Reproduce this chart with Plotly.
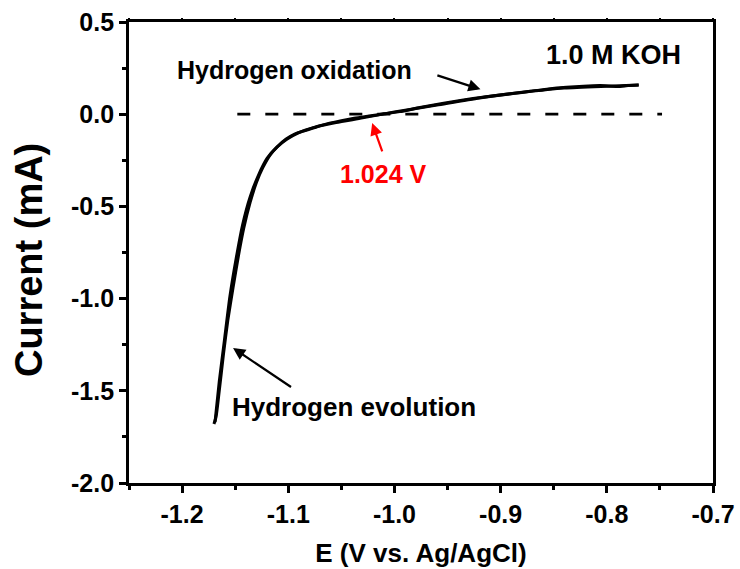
import plotly.graph_objects as go

# Forward scan (cathodic -> anodic)
E_fwd = [-1.170, -1.168, -1.165, -1.161, -1.157, -1.152, -1.147, -1.142, -1.136, -1.130, -1.124,
         -1.117, -1.110, -1.102, -1.094, -1.085, -1.075, -1.062, -1.050, -1.038, -1.024, -1.010,
         -0.995, -0.976, -0.955, -0.935, -0.917, -0.895, -0.872, -0.855, -0.838, -0.822, -0.806,
         -0.790, -0.780, -0.770]
I_fwd = [-1.680, -1.640, -1.500, -1.300, -1.120, -0.940, -0.770, -0.620, -0.480, -0.370, -0.290,
         -0.220, -0.175, -0.135, -0.108, -0.090, -0.072, -0.050, -0.035, -0.022, -0.010, 0.002,
         0.014, 0.036, 0.058, 0.077, 0.092, 0.108, 0.124, 0.137, 0.146, 0.152, 0.155,
         0.150, 0.155, 0.158]
# Reverse scan (anodic -> cathodic)
E_rev = [-0.770, -0.800, -0.840, -0.880, -0.920, -0.960, -1.000, -1.030, -1.055, -1.075, -1.090,
         -1.101, -1.111, -1.120, -1.128, -1.136, -1.143, -1.149, -1.155, -1.160, -1.165, -1.169]
I_rev = [0.158, 0.152, 0.142, 0.118, 0.088, 0.050, 0.012, -0.020, -0.045, -0.070, -0.100,
         -0.135, -0.180, -0.240, -0.330, -0.450, -0.600, -0.780, -0.990, -1.220, -1.450, -1.670]

E_zero = [-1.148, -0.748]
I_zero = [0.0, 0.0]

x_ticks = [-1.2, -1.1, -1.0, -0.9, -0.8, -0.7]
x_ticklabels = ["-1.2", "-1.1", "-1.0", "-0.9", "-0.8", "-0.7"]
y_ticks = [0.5, 0.0, -0.5, -1.0, -1.5, -2.0]
y_ticklabels = ["0.5", "0.0", "-0.5", "-1.0", "-1.5", "-2.0"]

FONT = "Liberation Sans, Arial, sans-serif"

def b(s):
    return "<b>" + s + "</b>"

fig = go.Figure()
fig.add_trace(go.Scatter(x=E_zero, y=I_zero, mode="lines",
                         line=dict(color="black", width=2.8, dash="13px,15px"),
                         showlegend=False, hoverinfo="skip"))
fig.add_trace(go.Scatter(x=E_fwd, y=I_fwd, mode="lines",
                         line=dict(color="black", width=3, shape="spline", smoothing=0.6),
                         showlegend=False))
fig.add_trace(go.Scatter(x=E_rev, y=I_rev, mode="lines",
                         line=dict(color="black", width=3, shape="spline", smoothing=0.6),
                         showlegend=False))

tickfont = dict(family=FONT, size=25, color="black")

fig.update_layout(
    width=740, height=569,
    margin=dict(l=129, r=27, t=22, b=86),
    plot_bgcolor="white", paper_bgcolor="white",
    xaxis=dict(range=[-1.25, -0.7], tickvals=x_ticks, ticktext=[b(t) for t in x_ticklabels],
               automargin=False,
               ticks="outside", ticklen=7, tickwidth=2.5, tickcolor="black",
               minor=dict(dtick=0.05, tick0=-1.25, ticks="outside", ticklen=4, tickwidth=2.5, tickcolor="black"),
               showline=True, linewidth=2.8, linecolor="black", mirror=True,
               showgrid=False, zeroline=False, tickfont=tickfont,
               title=dict(text=b("E (V vs. Ag/AgCl)"), font=dict(family=FONT, size=26, color="black"),
                          standoff=17)),
    yaxis=dict(range=[-2.0, 0.5], tickvals=y_ticks, ticktext=[b(t) for t in y_ticklabels],
               automargin=False,
               ticks="outside", ticklen=7, tickwidth=2.5, tickcolor="black",
               minor=dict(dtick=0.25, tick0=-2.0, ticks="outside", ticklen=4, tickwidth=2.5, tickcolor="black"),
               showline=True, linewidth=2.8, linecolor="black", mirror=True,
               showgrid=False, zeroline=False, tickfont=tickfont),
    xaxis2=dict(range=[-1.25, -0.7], overlaying="x", side="top", automargin=False,
                tickvals=[-1.25, -1.2, -1.15, -1.1, -1.05, -1.0, -0.95, -0.9, -0.85, -0.8, -0.75, -0.7],
                ticks="outside", ticklen=3, tickwidth=2, tickcolor="black",
                showticklabels=False, showgrid=False, zeroline=False, showline=False),
)
# invisible trace to activate the top tick axis
fig.add_trace(go.Scatter(x=[-1.25], y=[-5], xaxis="x2", mode="markers",
                         marker=dict(opacity=0), showlegend=False, hoverinfo="skip"))

# y-axis title as rotated text
fig.add_annotation(xref="paper", yref="paper", x=-0.170, y=0.483, text=b("Current (mA)"),
                   textangle=-90, showarrow=False, xanchor="center", yanchor="middle",
                   font=dict(family=FONT, size=38, color="black"))

bold = dict(family=FONT, size=25, color="black")
fig.add_annotation(x=-1.094, y=0.240, text=b("Hydrogen oxidation"), showarrow=False, font=bold)
fig.add_annotation(x=-0.919, y=0.135, ax=-0.961, ay=0.213, axref="x", ayref="y",
                   text="", showarrow=True, arrowhead=2, arrowsize=1.1, arrowwidth=2.2, arrowcolor="black")
fig.add_annotation(x=-0.794, y=0.321, text=b("1.0 M KOH"), showarrow=False,
                   font=dict(family=FONT, size=27, color="black"))
fig.add_annotation(x=-1.010, y=-0.324, text=b("1.024 V"), showarrow=False,
                   font=dict(family=FONT, size=25, color="#FF0000"))
fig.add_annotation(x=-1.021, y=-0.048, ax=-1.011, ay=-0.210, axref="x", ayref="y",
                   text="", showarrow=True, arrowhead=2, arrowsize=1.1, arrowwidth=2.2, arrowcolor="#FF0000")
fig.add_annotation(x=-1.038, y=-1.588, text=b("Hydrogen evolution"), showarrow=False,
                   font=dict(family=FONT, size=26, color="black"))
fig.add_annotation(x=-1.152, y=-1.268, ax=-1.096, ay=-1.485, axref="x", ayref="y",
                   text="", showarrow=True, arrowhead=2, arrowsize=1.1, arrowwidth=2.2, arrowcolor="black")

fig.write_html("out.html")
